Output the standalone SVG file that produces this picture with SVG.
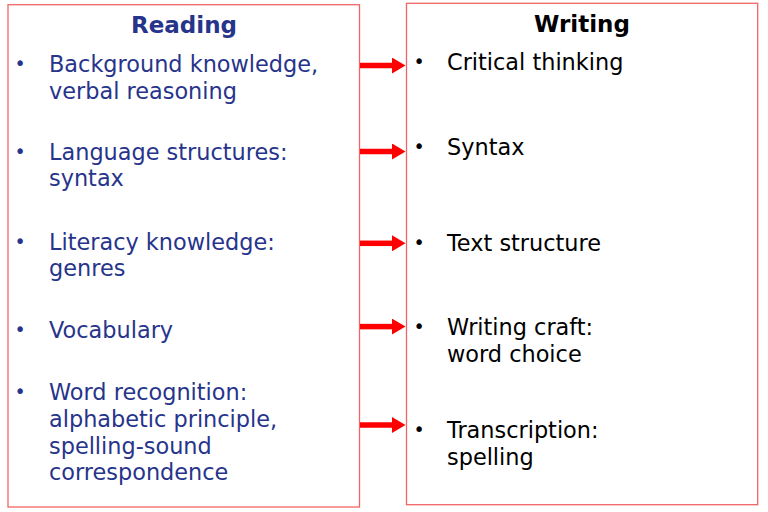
<svg xmlns="http://www.w3.org/2000/svg" width="768" height="512" viewBox="0 0 768 512">
<defs>
<style>
.box{fill:#ffffff;stroke:#f26464;stroke-width:1.3}
.t{font-family:"DejaVu Sans","Liberation Sans",sans-serif;font-size:22.4px}
.title{font-family:"DejaVu Sans","Liberation Sans",sans-serif;font-size:23px;font-weight:bold;text-anchor:middle}
.blue{fill:#27348b}
.black{fill:#000000}
.bul{font-family:"DejaVu Sans","Liberation Sans",sans-serif;font-size:19px;text-anchor:middle}
.arr{stroke:#ff0000;stroke-width:5.5;marker-end:url(#head)}
</style>
<marker id="head" markerUnits="userSpaceOnUse" markerWidth="14" markerHeight="16" refX="0" refY="8" orient="auto">
<path d="M0,0 L13.5,8 L0,16 Z" fill="#ff0000"/>
</marker>
</defs>
<rect width="768" height="512" fill="#ffffff"/>
<g id="reading">
<rect class="box" x="8" y="4.7" width="351.5" height="502.3"/>
<text class="title blue" x="184" y="33">Reading</text>
<g class="blue">
<text class="bul" x="20" y="70">•</text>
<text class="t" x="49" y="72">Background knowledge,</text>
<text class="t" x="49" y="98.5">verbal reasoning</text>
<text class="bul" x="20" y="158">•</text>
<text class="t" x="49" y="160">Language structures:</text>
<text class="t" x="49" y="186">syntax</text>
<text class="bul" x="20" y="248">•</text>
<text class="t" x="49" y="250">Literacy knowledge:</text>
<text class="t" x="49" y="276">genres</text>
<text class="bul" x="20" y="336">•</text>
<text class="t" x="49" y="338">Vocabulary</text>
<text class="bul" x="20" y="398">•</text>
<text class="t" x="49" y="400">Word recognition:</text>
<text class="t" x="49" y="427">alphabetic principle,</text>
<text class="t" x="49" y="453.5">spelling-sound</text>
<text class="t" x="49" y="480">correspondence</text>
</g>
</g>
<g id="writing">
<rect class="box" x="406.5" y="3.3" width="351.2" height="501.4"/>
<text class="title black" x="582" y="32">Writing</text>
<g class="black">
<text class="bul" x="419" y="68">•</text>
<text class="t" x="447" y="70">Critical thinking</text>
<text class="bul" x="419" y="153">•</text>
<text class="t" x="447" y="155">Syntax</text>
<text class="bul" x="419" y="249">•</text>
<text class="t" x="447" y="251">Text structure</text>
<text class="bul" x="419" y="333">•</text>
<text class="t" x="447" y="335">Writing craft:</text>
<text class="t" x="447" y="362">word choice</text>
<text class="bul" x="419" y="436">•</text>
<text class="t" x="447" y="438">Transcription:</text>
<text class="t" x="447" y="465">spelling</text>
</g>
</g>
<g id="connectors">
<line class="arr" x1="360" y1="65.5" x2="392" y2="65.5"/>
<line class="arr" x1="360" y1="151.5" x2="392" y2="151.5"/>
<line class="arr" x1="360" y1="243.3" x2="392" y2="243.3"/>
<line class="arr" x1="360" y1="326.6" x2="392" y2="326.6"/>
<line class="arr" x1="360" y1="425" x2="392" y2="425"/>
</g>
</svg>
